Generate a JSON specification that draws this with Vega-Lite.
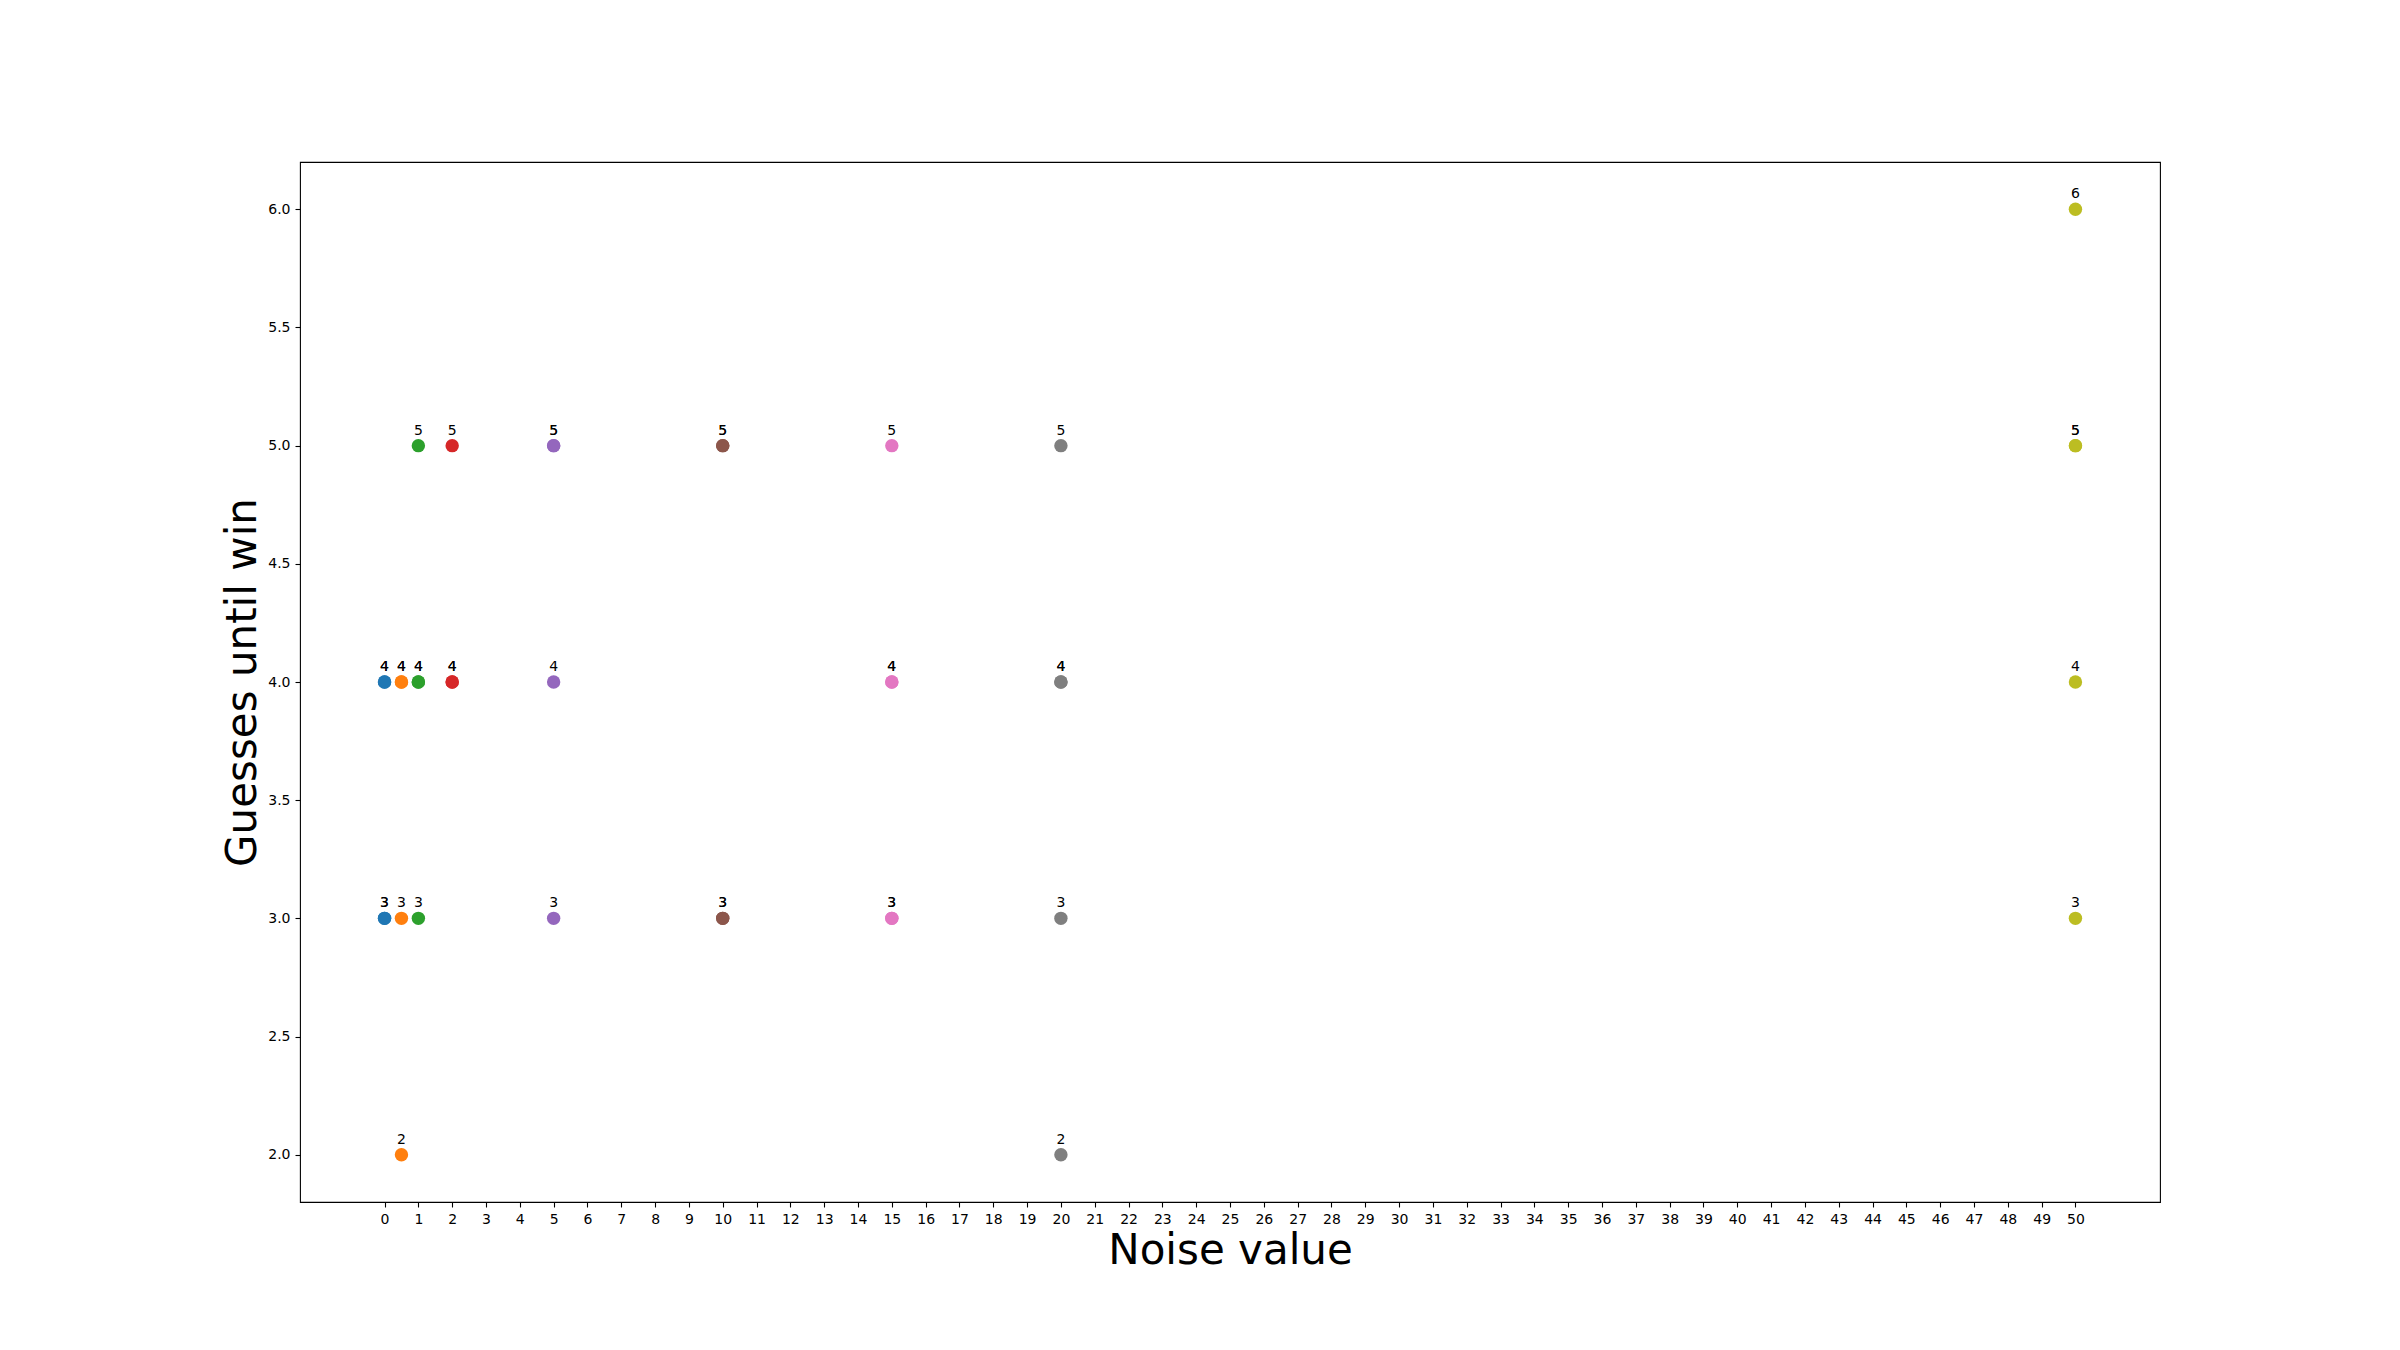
{
  "$schema": "https://vega.github.io/schema/vega-lite/v6.json",
  "autosize": {"type": "none"},
  "padding": {"left": 300, "top": 162, "right": 240, "bottom": 148},
  "width": 1860,
  "height": 1040,
  "background": "white",
  "config": {
    "font": "DejaVu Sans",
    "view": {"stroke": "black", "strokeWidth": 1.1},
    "axis": {
      "grid": false,
      "domain": false,
      "tickColor": "black",
      "tickWidth": 1.1,
      "tickSize": 5,
      "labelPadding": 5,
      "labelFontSize": 14,
      "labelColor": "black",
      "titleFont": "DejaVu Sans",
      "titleFontSize": 42,
      "titleFontWeight": "normal",
      "titleColor": "black"
    }
  },
  "data": {
    "values": [
      {"noise": 0, "guesses": 4}, {"noise": 0, "guesses": 4}, {"noise": 0, "guesses": 3}, {"noise": 0, "guesses": 3},
      {"noise": 0.5, "guesses": 4}, {"noise": 0.5, "guesses": 4}, {"noise": 0.5, "guesses": 3}, {"noise": 0.5, "guesses": 2},
      {"noise": 1, "guesses": 5}, {"noise": 1, "guesses": 4}, {"noise": 1, "guesses": 4}, {"noise": 1, "guesses": 3},
      {"noise": 2, "guesses": 5}, {"noise": 2, "guesses": 4}, {"noise": 2, "guesses": 4},
      {"noise": 5, "guesses": 5}, {"noise": 5, "guesses": 5}, {"noise": 5, "guesses": 4}, {"noise": 5, "guesses": 3},
      {"noise": 10, "guesses": 5}, {"noise": 10, "guesses": 5}, {"noise": 10, "guesses": 3}, {"noise": 10, "guesses": 3},
      {"noise": 15, "guesses": 5}, {"noise": 15, "guesses": 4}, {"noise": 15, "guesses": 4}, {"noise": 15, "guesses": 3}, {"noise": 15, "guesses": 3},
      {"noise": 20, "guesses": 5}, {"noise": 20, "guesses": 4}, {"noise": 20, "guesses": 4}, {"noise": 20, "guesses": 3}, {"noise": 20, "guesses": 2},
      {"noise": 50, "guesses": 6}, {"noise": 50, "guesses": 5}, {"noise": 50, "guesses": 5}, {"noise": 50, "guesses": 4}, {"noise": 50, "guesses": 3}
    ]
  },
  "encoding": {
    "x": {
      "field": "noise", "type": "quantitative",
      "scale": {"domain": [-2.5, 52.5], "nice": false, "zero": false},
      "axis": {
        "title": "Noise value",
        "values": [0,1,2,3,4,5,6,7,8,9,10,11,12,13,14,15,16,17,18,19,20,21,22,23,24,25,26,27,28,29,30,31,32,33,34,35,36,37,38,39,40,41,42,43,44,45,46,47,48,49,50],
        "format": "d",
        "labelOverlap": false,
        "titlePadding": 4
      }
    },
    "y": {
      "field": "guesses", "type": "quantitative",
      "scale": {"domain": [1.8, 6.2], "nice": false, "zero": false},
      "axis": {
        "title": "Guesses until win",
        "values": [2.0, 2.5, 3.0, 3.5, 4.0, 4.5, 5.0, 5.5, 6.0],
        "format": ".1f",
        "labelOverlap": false,
        "titlePadding": 3
      }
    }
  },
  "layer": [
    {
      "mark": {"type": "point", "filled": true, "opacity": 1, "size": 180, "strokeWidth": 0},
      "encoding": {
        "color": {
          "field": "noise", "type": "nominal",
          "scale": {
            "domain": [0, 0.5, 1, 2, 5, 10, 15, 20, 50],
            "range": ["#1f77b4", "#ff7f0e", "#2ca02c", "#d62728", "#9467bd", "#8c564b", "#e377c2", "#7f7f7f", "#bcbd22"]
          },
          "legend": null
        }
      }
    },
    {
      "mark": {"type": "text", "dy": -15, "fontSize": 14, "color": "black", "baseline": "middle", "align": "center"},
      "encoding": {
        "text": {"field": "guesses", "type": "quantitative", "format": "d"}
      }
    }
  ]
}
